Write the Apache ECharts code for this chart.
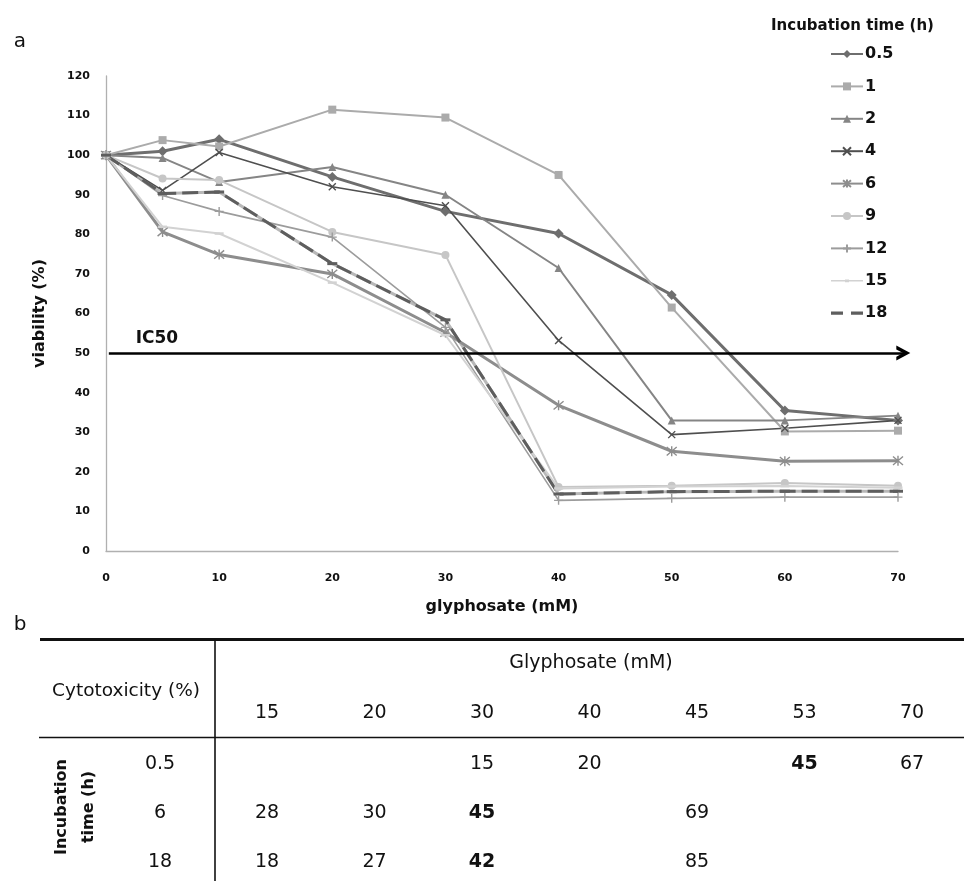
<!DOCTYPE html>
<html>
<head>
<meta charset="utf-8">
<script src="https://cdn.jsdelivr.net/npm/echarts@6/dist/echarts.min.js"></script>
<style>html,body{margin:0;padding:0;background:#fff}#c{width:964px;height:881px}</style>
</head>
<body>
<div id="c"></div>
<script>
// ---- data ----
var xValues = [0, 5, 10, 20, 30, 40, 50, 60, 70];
var seriesNames = ['0.5', '1', '2', '4', '6', '9', '12', '15', '18'];
var t0_5 = [100, 101, 104, 94.5, 85.8, 80.2, 64.7, 35.5, 33];
var t1   = [100, 103.8, 102.2, 111.5, 109.5, 95, 61.5, 30.2, 30.4];
var t2   = [100, 99.3, 93.2, 97, 90, 71.5, 33, 33, 34.2];
var t4   = [100, 91.1, 100.7, 92, 87.2, 53.2, 29.4, 31, 33];
var t6   = [100, 80.6, 74.9, 70, 55.2, 36.8, 25.2, 22.7, 22.8];
var t9   = [100, 94.1, 93.7, 80.6, 74.8, 16.2, 16.5, 17.2, 16.5];
var t12  = [100, 89.8, 85.8, 79.3, 56.5, 12.8, 13.3, 13.6, 13.6];
var t15  = [100, 81.9, 80.2, 67.8, 54.5, 15.8, 16.3, 16.4, 16];
var t18  = [100, 90.3, 90.7, 72.6, 58.4, 14.4, 15, 15.1, 15.1];
var icValue = 50;
var icRange = [0.25, 71];   // x extent of the IC50 arrow (mM)
var yTicks = {min: 0, max: 120, step: 10};
var xTicks = {min: 0, max: 70, step: 10};

var tableCols = [15, 20, 30, 40, 45, 53, 70];
var tableRows = ['0.5', '6', '18'];
var tableValues = [
  [null, null, 15, 20, null, 45, 67],
  [28, 30, 45, null, 69, null, null],
  [18, 27, 42, null, 85, null, null]
];

// ---- styles ----
var FONT = 'DejaVu Sans';
var seriesValues = [t0_5, t1, t2, t4, t6, t9, t12, t15, t18];
var styles = [
  {color: '#6e6e6e', width: 3,   symbol: 'diamond', size: 10},
  {color: '#ababab', width: 2,   symbol: 'rect', size: 8},
  {color: '#858585', width: 2,   symbol: 'triangle', size: 8},
  {color: '#4f4f4f', width: 1.6, symbol: 'path://M0,0L10,10M10,0L0,10', size: 7, stroke: true},
  {color: '#8d8d8d', width: 3,   symbol: 'path://M0,0L10,10M10,0L0,10M5,-1L5,11', size: 10, stroke: true},
  {color: '#c6c6c6', width: 2,   symbol: 'circle', size: 8},
  {color: '#9c9c9c', width: 1.6, symbol: 'path://M5,0L5,10M0,5L10,5', size: 9, stroke: true},
  {color: '#d2d2d2', width: 2,   symbol: 'rect', size: [9, 2.5]},
  {color: '#5e5e5e', width: 3,   symbol: 'rect', size: [10, 3], dash: true}
];
var specks = 'M0,0L0.3,0L0.3,0.05Z M31.7,9.95L32,9.95L32,10Z ';
var legendIcons = {
  '15': 'path://' + specks + 'M0,4.2L32,4.2L32,5.8L0,5.8Z M14,3.6L18,3.6L18,6.4L14,6.4Z',
  '18': 'path://' + specks + 'M0,3.4L12,3.4L12,6.6L0,6.6Z M20,3.4L32,3.4L32,6.6L20,6.6Z'
};

function pairs(vals) { return xValues.map(function (x, i) { return [x, vals[i]]; }); }

var chevron = 'path://M0,10L5,0L10,10L7.4,10L5,5.2L2.6,10Z';

var series = [];
seriesNames.forEach(function (name, i) {
  var s = styles[i];
  if (s.dash) {
    series.push({
      name: name + '_base', type: 'line', data: pairs(seriesValues[i]),
      symbol: 'none', lineStyle: {color: '#b8b8b8', width: s.width},
      silent: true, z: 2
    });
  }
  var item = s.stroke
    ? {color: s.color, borderColor: s.color, borderWidth: 1.4}
    : {color: s.color, borderWidth: 0};
  series.push({
    name: name, type: 'line', data: pairs(seriesValues[i]),
    symbol: s.symbol, symbolSize: s.size, showSymbol: true,
    lineStyle: {color: s.color, width: s.width, type: s.dash ? [16, 6] : 'solid'},
    itemStyle: item, emphasis: {disabled: true}, z: 3
  });
});

var legendData = seriesNames.map(function (n) {
  return legendIcons[n] ? {name: n, icon: legendIcons[n]} : {name: n};
});

var chart = echarts.init(document.getElementById('c'), null, {renderer: 'canvas'});
chart.setOption({
  animation: false,
  backgroundColor: '#fff',
  title: {
    text: 'Incubation time (h)', left: 766, top: 14,
    textStyle: {fontFamily: FONT, fontSize: 15, fontWeight: 'bold', color: '#111'}
  },
  legend: {
    orient: 'vertical', left: 825, top: 41, itemWidth: 32, itemHeight: 10, itemGap: 16.4,
    data: legendData, selectedMode: false,
    textStyle: {fontFamily: FONT, fontSize: 16, fontWeight: 'bold', color: '#111', padding: [0, 0, 0, -3]}
  },
  grid: {left: 106, right: 66, top: 76, bottom: 330, containLabel: false},
  xAxis: {
    type: 'value', min: xTicks.min, max: xTicks.max, interval: xTicks.step,
    name: 'glyphosate (mM)', nameLocation: 'middle', nameGap: 48,
    nameTextStyle: {fontFamily: FONT, fontSize: 16, fontWeight: 'bold', color: '#111'},
    axisLine: {lineStyle: {color: '#b0b0b0', width: 1.3}},
    axisTick: {show: false}, splitLine: {show: false},
    axisLabel: {fontFamily: FONT, fontSize: 11, fontWeight: 'bold', color: '#111', margin: 22}
  },
  yAxis: {
    type: 'value', min: yTicks.min, max: yTicks.max, interval: yTicks.step,
    name: 'viability (%)', nameLocation: 'middle', nameGap: 58,
    nameTextStyle: {fontFamily: FONT, fontSize: 16, fontWeight: 'bold', color: '#111'},
    axisLine: {show: true, lineStyle: {color: '#b0b0b0', width: 1.3}},
    axisTick: {show: false}, splitLine: {show: false},
    axisLabel: {fontFamily: FONT, fontSize: 11, fontWeight: 'bold', color: '#111', margin: 16}
  },
  series: series
});

// ---- IC50 arrow via the chart's own scales ----
var cs = {xAxisIndex: 0, yAxisIndex: 0};
var p0 = chart.convertToPixel(cs, [icRange[0], icValue]);
var p1 = chart.convertToPixel(cs, [icRange[1], icValue]);
chart.setOption({
  series: [{
    name: '0.5',
    markLine: {
      silent: true, animation: false,
      lineStyle: {color: '#000', width: 2.6, type: 'solid'},
      label: {show: false},
      emphasis: {disabled: true},
      data: [[
        {x: p0[0], y: p0[1], symbol: 'none'},
        {x: p1[0] - 6, y: p1[1], symbol: chevron, symbolSize: [15, 14]}
      ]]
    }
  }]
});

// ---- annotations and table ----
var icPos = chart.convertToPixel(cs, [4.5, 53.6]);
var g = [];
function txt(x, y, s, size, bold, extra) {
  var el = {type: 'text', x: x, y: y, silent: true,
    style: {text: String(s), fontFamily: FONT, fontSize: size, fontWeight: bold ? 'bold' : 'normal',
      fill: '#111', textAlign: 'center', textVerticalAlign: 'middle'}};
  if (extra) for (var k in extra) el[k] = extra[k];
  return el;
}
g.push(txt(icPos[0], icPos[1], 'IC50', 17, true));
g.push(txt(20, 42, 'a', 20, false));
g.push(txt(20, 625, 'b', 20, false));

// table lines
g.push({type: 'line', silent: true, shape: {x1: 40, y1: 639.5, x2: 964, y2: 639.5}, style: {stroke: '#111', lineWidth: 3}});
g.push({type: 'line', silent: true, shape: {x1: 39, y1: 737.5, x2: 964, y2: 737.5}, style: {stroke: '#111', lineWidth: 1.6}});
g.push({type: 'line', silent: true, shape: {x1: 215, y1: 639, x2: 215, y2: 881}, style: {stroke: '#111', lineWidth: 1.6}});

g.push(txt(126, 691, 'Cytotoxicity (%)', 18.5, false));
g.push(txt(591, 663, 'Glyphosate (mM)', 19, false));
var colX0 = 267, colStep = 107.5;
tableCols.forEach(function (c, j) { g.push(txt(colX0 + j * colStep, 713, c, 19, false)); });
var rowY0 = 764, rowStep = 49;
g.push(txt(62, 807, 'Incubation', 16, true, {rotation: Math.PI / 2}));
g.push(txt(89, 807, 'time (h)', 16, true, {rotation: Math.PI / 2}));
tableRows.forEach(function (r, i) {
  var y = rowY0 + i * rowStep;
  g.push(txt(160, y, r, 19, false));
  var vals = tableValues[i];
  var best = null, bestD = Infinity;
  vals.forEach(function (v, j) { if (v != null && Math.abs(v - icValue) < bestD) { bestD = Math.abs(v - icValue); best = j; } });
  vals.forEach(function (v, j) {
    if (v == null) return;
    g.push(txt(colX0 + j * colStep, y, v, 19, j === best));
  });
});
chart.setOption({graphic: g});
</script>
</body>
</html>
